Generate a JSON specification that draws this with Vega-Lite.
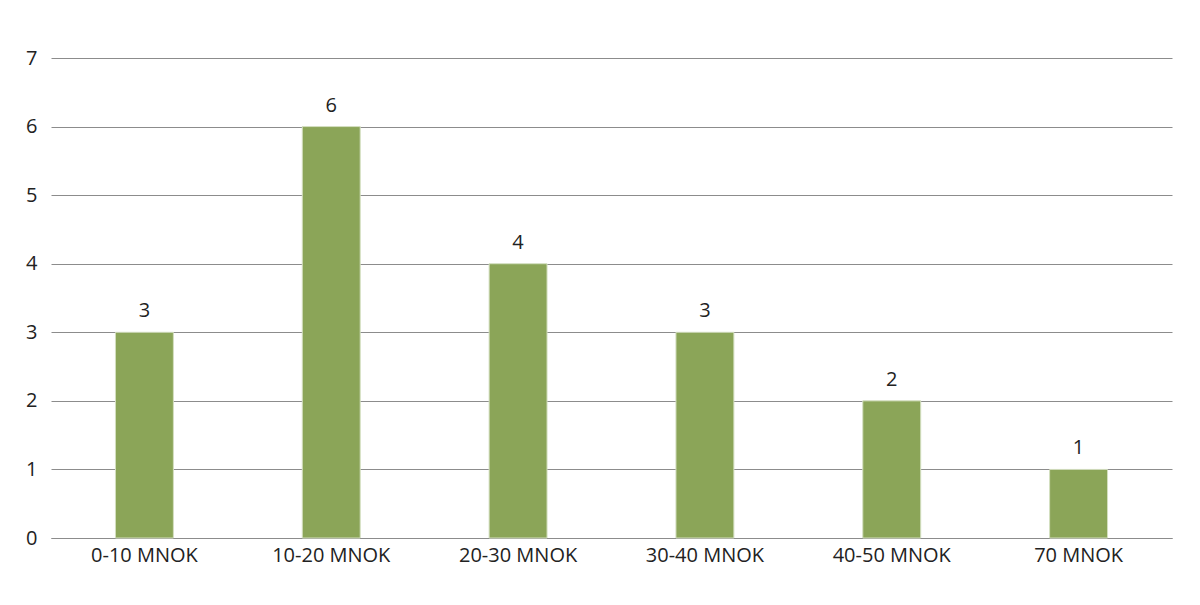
{
  "$schema": "https://vega.github.io/schema/vega-lite/v6.json",
  "autosize": "none",
  "width": 1121,
  "height": 480,
  "padding": {"left": 51, "top": 58, "right": 28, "bottom": 67},
  "background": "white",
  "config": {
    "font": "Open Sans",
    "view": {"stroke": null}
  },
  "data": {
    "values": [
      {"kategori": "0-10 MNOK", "antall": 3},
      {"kategori": "10-20 MNOK", "antall": 6},
      {"kategori": "20-30 MNOK", "antall": 4},
      {"kategori": "30-40 MNOK", "antall": 3},
      {"kategori": "40-50 MNOK", "antall": 2},
      {"kategori": "70 MNOK", "antall": 1}
    ]
  },
  "encoding": {
    "x": {
      "field": "kategori",
      "type": "nominal",
      "sort": null,
      "scale": {"paddingInner": 0.69, "paddingOuter": 0.345},
      "axis": {
        "title": null,
        "labelAngle": 0,
        "labelFontSize": 20,
        "labelColor": "#222222",
        "labelPadding": 7,
        "ticks": false,
        "domainColor": "#8c8c8c",
        "domainWidth": 1.2,
        "grid": false
      }
    },
    "y": {
      "field": "antall",
      "type": "quantitative",
      "scale": {"domain": [0, 7], "nice": false},
      "axis": {
        "title": null,
        "values": [0, 1, 2, 3, 4, 5, 6, 7],
        "labelFontSize": 20,
        "labelColor": "#222222",
        "labelPadding": 14,
        "ticks": false,
        "domain": false,
        "gridColor": "#8c8c8c",
        "gridWidth": 1
      }
    }
  },
  "layer": [
    {
      "mark": {"type": "bar", "color": "#8ba558", "stroke": "#d4dfc0", "strokeWidth": 1}
    },
    {
      "mark": {"type": "text", "baseline": "bottom", "dy": -11, "fontSize": 20, "color": "#222222"},
      "encoding": {"text": {"field": "antall", "type": "quantitative"}}
    }
  ]
}
